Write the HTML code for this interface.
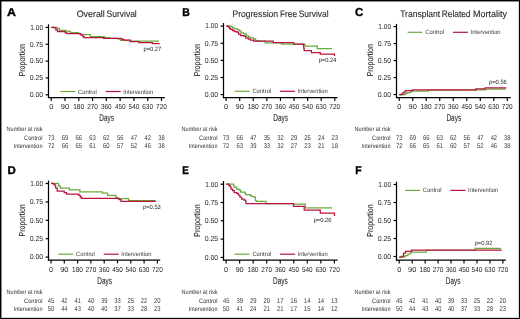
<!DOCTYPE html>
<html><head><meta charset="utf-8"><style>
html,body{margin:0;padding:0;background:#fff;}
svg{display:block;font-family:"Liberation Sans", sans-serif;will-change:transform;text-rendering:geometricPrecision;}
</style></head><body>
<svg width="520" height="319" viewBox="0 0 520 319">
<rect x="0" y="0" width="520" height="319" fill="#fff"/>
<text x="6.99" y="16.40" font-size="11.4" font-weight="bold" fill="#000" stroke="#000" stroke-width="0.4" textLength="8.93" lengthAdjust="spacingAndGlyphs">A</text>
<text x="76.68" y="16.80" font-size="9.4" fill="#262626" stroke="#262626" stroke-width="0.1" textLength="28.11" lengthAdjust="spacingAndGlyphs">Overall</text>
<text x="106.51" y="16.80" font-size="9.4" fill="#262626" stroke="#262626" stroke-width="0.1" textLength="30.26" lengthAdjust="spacingAndGlyphs">Survival</text>
<line x1="48.50" y1="24.30" x2="48.50" y2="98.10" stroke="#000" stroke-width="1.25"/>
<line x1="47.90" y1="97.50" x2="164.80" y2="97.50" stroke="#000" stroke-width="1.25"/>
<line x1="45.60" y1="27.40" x2="48.50" y2="27.40" stroke="#000" stroke-width="1.2"/>
<text x="30.30" y="29.70" font-size="7.2" fill="#262626" textLength="12.76" lengthAdjust="spacingAndGlyphs">1.00</text>
<line x1="45.60" y1="44.25" x2="48.50" y2="44.25" stroke="#000" stroke-width="1.2"/>
<text x="29.63" y="46.55" font-size="7.2" fill="#262626" textLength="13.46" lengthAdjust="spacingAndGlyphs">0.75</text>
<line x1="45.60" y1="61.10" x2="48.50" y2="61.10" stroke="#000" stroke-width="1.2"/>
<text x="29.63" y="63.40" font-size="7.2" fill="#262626" textLength="13.44" lengthAdjust="spacingAndGlyphs">0.50</text>
<line x1="45.60" y1="77.95" x2="48.50" y2="77.95" stroke="#000" stroke-width="1.2"/>
<text x="29.63" y="80.25" font-size="7.2" fill="#262626" textLength="13.46" lengthAdjust="spacingAndGlyphs">0.25</text>
<line x1="45.60" y1="94.80" x2="48.50" y2="94.80" stroke="#000" stroke-width="1.2"/>
<text x="29.63" y="97.10" font-size="7.2" fill="#262626" textLength="13.44" lengthAdjust="spacingAndGlyphs">0.00</text>
<line x1="51.20" y1="97.50" x2="51.20" y2="100.90" stroke="#000" stroke-width="1.15"/>
<text x="49.16" y="108.80" font-size="7.2" fill="#262626" textLength="4.07" lengthAdjust="spacingAndGlyphs">0</text>
<line x1="64.99" y1="97.50" x2="64.99" y2="100.90" stroke="#000" stroke-width="1.15"/>
<text x="60.84" y="108.80" font-size="7.2" fill="#262626" textLength="8.24" lengthAdjust="spacingAndGlyphs">90</text>
<line x1="78.78" y1="97.50" x2="78.78" y2="100.90" stroke="#000" stroke-width="1.15"/>
<text x="73.17" y="108.80" font-size="7.2" fill="#262626" textLength="10.96" lengthAdjust="spacingAndGlyphs">180</text>
<line x1="92.56" y1="97.50" x2="92.56" y2="100.90" stroke="#000" stroke-width="1.15"/>
<text x="87.14" y="108.80" font-size="7.2" fill="#262626" textLength="10.78" lengthAdjust="spacingAndGlyphs">270</text>
<line x1="106.35" y1="97.50" x2="106.35" y2="100.90" stroke="#000" stroke-width="1.15"/>
<text x="101.01" y="108.80" font-size="7.2" fill="#262626" textLength="10.69" lengthAdjust="spacingAndGlyphs">360</text>
<line x1="120.14" y1="97.50" x2="120.14" y2="100.90" stroke="#000" stroke-width="1.15"/>
<text x="114.89" y="108.80" font-size="7.2" fill="#262626" textLength="10.59" lengthAdjust="spacingAndGlyphs">450</text>
<line x1="133.93" y1="97.50" x2="133.93" y2="100.90" stroke="#000" stroke-width="1.15"/>
<text x="128.57" y="108.80" font-size="7.2" fill="#262626" textLength="10.71" lengthAdjust="spacingAndGlyphs">540</text>
<line x1="147.71" y1="97.50" x2="147.71" y2="100.90" stroke="#000" stroke-width="1.15"/>
<text x="142.28" y="108.80" font-size="7.2" fill="#262626" textLength="10.78" lengthAdjust="spacingAndGlyphs">630</text>
<line x1="161.50" y1="97.50" x2="161.50" y2="100.90" stroke="#000" stroke-width="1.15"/>
<text x="156.07" y="108.80" font-size="7.2" fill="#262626" textLength="10.78" lengthAdjust="spacingAndGlyphs">720</text>
<text x="99.27" y="120.50" font-size="9.8" fill="#262626" stroke="#262626" stroke-width="0.08" textLength="14.66" lengthAdjust="spacingAndGlyphs">Days</text>
<text x="0" y="0" font-size="8.7" fill="#262626" stroke="#262626" stroke-width="0.12" textLength="32.23" lengthAdjust="spacingAndGlyphs" transform="translate(24.80,76.37) rotate(-90)">Proportion</text>
<line x1="60.30" y1="91.50" x2="75.20" y2="91.50" stroke="#6aaa3c" stroke-width="1.2"/>
<line x1="105.60" y1="91.50" x2="120.70" y2="91.50" stroke="#b8143f" stroke-width="1.2"/>
<text x="78.00" y="93.50" font-size="6.2" fill="#3a3a3a" textLength="18.79" lengthAdjust="spacingAndGlyphs">Control</text>
<text x="123.27" y="93.50" font-size="6.2" fill="#3a3a3a" textLength="30.00" lengthAdjust="spacingAndGlyphs">Intervention</text>
<path d="M51.20,27.30 L56.30,27.30 L56.30,27.80 L57.80,27.80 L57.80,28.60 L59.40,28.60 L59.40,30.40 L66.00,30.40 L66.00,31.00 L69.00,31.00 L69.00,31.50 L70.50,31.50 L70.50,32.60 L78.60,32.60 L78.60,33.60 L80.50,33.60 L80.50,34.50 L90.40,34.50 L90.40,36.50 L104.60,36.50 L104.60,37.50 L109.60,37.50 L109.60,38.30 L118.00,38.30 L118.00,39.20 L120.40,39.20 L120.40,40.30 L131.00,40.30 L131.00,41.20 L158.90,41.20 L158.90,41.20" fill="none" stroke="#6aaa3c" stroke-width="1.25"/>
<path d="M51.20,27.30 L54.00,27.30 L54.00,27.80 L55.90,27.80 L55.90,30.20 L57.50,30.20 L57.50,31.70 L65.20,31.70 L65.20,32.80 L67.10,32.80 L67.10,33.60 L80.50,33.60 L80.50,34.80 L82.80,34.80 L82.80,36.70 L84.00,36.70 L84.00,37.50 L103.50,37.50 L103.50,38.30 L121.20,38.30 L121.20,38.80 L122.70,38.80 L122.70,39.60 L124.30,39.60 L124.30,40.20 L130.10,40.20 L130.10,41.70 L138.90,41.70 L138.90,42.50 L152.40,42.50 L152.40,43.60 L159.70,43.60 L159.70,43.60" fill="none" stroke="#b8143f" stroke-width="1.25"/>
<text x="143.43" y="50.50" font-size="6.2" fill="#262626" textLength="17.86" lengthAdjust="spacingAndGlyphs">p=0.27</text>
<text x="6.55" y="131.00" font-size="6.3" fill="#303030" textLength="36.05" lengthAdjust="spacingAndGlyphs">Number at risk</text>
<text x="24.01" y="139.60" font-size="6.3" fill="#303030" textLength="18.47" lengthAdjust="spacingAndGlyphs">Control</text>
<text x="13.69" y="148.40" font-size="6.3" fill="#303030" textLength="28.77" lengthAdjust="spacingAndGlyphs">Intervention</text>
<text x="47.90" y="139.70" font-size="7.0" fill="#3a3a3a" textLength="6.56" lengthAdjust="spacingAndGlyphs">73</text>
<text x="47.90" y="148.20" font-size="7.0" fill="#3a3a3a" textLength="6.60" lengthAdjust="spacingAndGlyphs">72</text>
<text x="61.69" y="139.70" font-size="7.0" fill="#3a3a3a" textLength="6.58" lengthAdjust="spacingAndGlyphs">69</text>
<text x="61.69" y="148.20" font-size="7.0" fill="#3a3a3a" textLength="6.56" lengthAdjust="spacingAndGlyphs">66</text>
<text x="75.48" y="139.70" font-size="7.0" fill="#3a3a3a" textLength="6.56" lengthAdjust="spacingAndGlyphs">66</text>
<text x="75.48" y="148.20" font-size="7.0" fill="#3a3a3a" textLength="6.55" lengthAdjust="spacingAndGlyphs">65</text>
<text x="89.26" y="139.70" font-size="7.0" fill="#3a3a3a" textLength="6.56" lengthAdjust="spacingAndGlyphs">63</text>
<text x="89.26" y="148.20" font-size="7.0" fill="#3a3a3a" textLength="6.59" lengthAdjust="spacingAndGlyphs">61</text>
<text x="103.05" y="139.70" font-size="7.0" fill="#3a3a3a" textLength="6.60" lengthAdjust="spacingAndGlyphs">62</text>
<text x="103.05" y="148.20" font-size="7.0" fill="#3a3a3a" textLength="6.53" lengthAdjust="spacingAndGlyphs">60</text>
<text x="116.90" y="139.70" font-size="7.0" fill="#3a3a3a" textLength="6.49" lengthAdjust="spacingAndGlyphs">56</text>
<text x="116.90" y="148.20" font-size="7.0" fill="#3a3a3a" textLength="6.53" lengthAdjust="spacingAndGlyphs">57</text>
<text x="130.79" y="139.70" font-size="7.0" fill="#3a3a3a" textLength="6.42" lengthAdjust="spacingAndGlyphs">47</text>
<text x="130.69" y="148.20" font-size="7.0" fill="#3a3a3a" textLength="6.53" lengthAdjust="spacingAndGlyphs">52</text>
<text x="144.58" y="139.70" font-size="7.0" fill="#3a3a3a" textLength="6.42" lengthAdjust="spacingAndGlyphs">42</text>
<text x="144.58" y="148.20" font-size="7.0" fill="#3a3a3a" textLength="6.38" lengthAdjust="spacingAndGlyphs">46</text>
<text x="158.28" y="139.70" font-size="7.0" fill="#3a3a3a" textLength="6.47" lengthAdjust="spacingAndGlyphs">38</text>
<text x="158.28" y="148.20" font-size="7.0" fill="#3a3a3a" textLength="6.47" lengthAdjust="spacingAndGlyphs">38</text>
<text x="182.30" y="16.30" font-size="11.4" font-weight="bold" fill="#000" stroke="#000" stroke-width="0.4" textLength="7.58" lengthAdjust="spacingAndGlyphs">B</text>
<text x="232.50" y="16.60" font-size="9.4" fill="#262626" stroke="#262626" stroke-width="0.1" textLength="45.55" lengthAdjust="spacingAndGlyphs">Progression</text>
<text x="279.91" y="16.60" font-size="9.4" fill="#262626" stroke="#262626" stroke-width="0.1" textLength="17.26" lengthAdjust="spacingAndGlyphs">Free</text>
<text x="298.72" y="16.60" font-size="9.4" fill="#262626" stroke="#262626" stroke-width="0.1" textLength="29.84" lengthAdjust="spacingAndGlyphs">Survival</text>
<line x1="223.50" y1="23.00" x2="223.50" y2="98.10" stroke="#000" stroke-width="1.25"/>
<line x1="222.90" y1="97.50" x2="337.60" y2="97.50" stroke="#000" stroke-width="1.25"/>
<line x1="220.60" y1="26.10" x2="223.50" y2="26.10" stroke="#000" stroke-width="1.2"/>
<text x="205.30" y="28.40" font-size="7.2" fill="#262626" textLength="12.76" lengthAdjust="spacingAndGlyphs">1.00</text>
<line x1="220.60" y1="43.23" x2="223.50" y2="43.23" stroke="#000" stroke-width="1.2"/>
<text x="204.63" y="45.52" font-size="7.2" fill="#262626" textLength="13.46" lengthAdjust="spacingAndGlyphs">0.75</text>
<line x1="220.60" y1="60.35" x2="223.50" y2="60.35" stroke="#000" stroke-width="1.2"/>
<text x="204.63" y="62.65" font-size="7.2" fill="#262626" textLength="13.44" lengthAdjust="spacingAndGlyphs">0.50</text>
<line x1="220.60" y1="77.47" x2="223.50" y2="77.47" stroke="#000" stroke-width="1.2"/>
<text x="204.63" y="79.77" font-size="7.2" fill="#262626" textLength="13.46" lengthAdjust="spacingAndGlyphs">0.25</text>
<line x1="220.60" y1="94.60" x2="223.50" y2="94.60" stroke="#000" stroke-width="1.2"/>
<text x="204.63" y="96.90" font-size="7.2" fill="#262626" textLength="13.44" lengthAdjust="spacingAndGlyphs">0.00</text>
<line x1="226.10" y1="97.50" x2="226.10" y2="100.90" stroke="#000" stroke-width="1.15"/>
<text x="224.06" y="108.80" font-size="7.2" fill="#262626" textLength="4.07" lengthAdjust="spacingAndGlyphs">0</text>
<line x1="239.69" y1="97.50" x2="239.69" y2="100.90" stroke="#000" stroke-width="1.15"/>
<text x="235.54" y="108.80" font-size="7.2" fill="#262626" textLength="8.24" lengthAdjust="spacingAndGlyphs">90</text>
<line x1="253.28" y1="97.50" x2="253.28" y2="100.90" stroke="#000" stroke-width="1.15"/>
<text x="247.67" y="108.80" font-size="7.2" fill="#262626" textLength="10.96" lengthAdjust="spacingAndGlyphs">180</text>
<line x1="266.86" y1="97.50" x2="266.86" y2="100.90" stroke="#000" stroke-width="1.15"/>
<text x="261.44" y="108.80" font-size="7.2" fill="#262626" textLength="10.78" lengthAdjust="spacingAndGlyphs">270</text>
<line x1="280.45" y1="97.50" x2="280.45" y2="100.90" stroke="#000" stroke-width="1.15"/>
<text x="275.11" y="108.80" font-size="7.2" fill="#262626" textLength="10.69" lengthAdjust="spacingAndGlyphs">360</text>
<line x1="294.04" y1="97.50" x2="294.04" y2="100.90" stroke="#000" stroke-width="1.15"/>
<text x="288.79" y="108.80" font-size="7.2" fill="#262626" textLength="10.59" lengthAdjust="spacingAndGlyphs">450</text>
<line x1="307.62" y1="97.50" x2="307.62" y2="100.90" stroke="#000" stroke-width="1.15"/>
<text x="302.27" y="108.80" font-size="7.2" fill="#262626" textLength="10.71" lengthAdjust="spacingAndGlyphs">540</text>
<line x1="321.21" y1="97.50" x2="321.21" y2="100.90" stroke="#000" stroke-width="1.15"/>
<text x="315.78" y="108.80" font-size="7.2" fill="#262626" textLength="10.78" lengthAdjust="spacingAndGlyphs">630</text>
<line x1="334.80" y1="97.50" x2="334.80" y2="100.90" stroke="#000" stroke-width="1.15"/>
<text x="329.37" y="108.80" font-size="7.2" fill="#262626" textLength="10.78" lengthAdjust="spacingAndGlyphs">720</text>
<text x="273.37" y="120.50" font-size="9.8" fill="#262626" stroke="#262626" stroke-width="0.08" textLength="14.66" lengthAdjust="spacingAndGlyphs">Days</text>
<text x="0" y="0" font-size="8.7" fill="#262626" stroke="#262626" stroke-width="0.12" textLength="32.23" lengthAdjust="spacingAndGlyphs" transform="translate(199.80,76.37) rotate(-90)">Proportion</text>
<line x1="234.70" y1="91.30" x2="249.60" y2="91.30" stroke="#6aaa3c" stroke-width="1.2"/>
<line x1="280.00" y1="91.30" x2="295.10" y2="91.30" stroke="#b8143f" stroke-width="1.2"/>
<text x="252.40" y="93.30" font-size="6.2" fill="#3a3a3a" textLength="18.79" lengthAdjust="spacingAndGlyphs">Control</text>
<text x="297.67" y="93.30" font-size="6.2" fill="#3a3a3a" textLength="30.00" lengthAdjust="spacingAndGlyphs">Intervention</text>
<path d="M226.10,26.10 L231.00,26.10 L231.00,26.80 L232.60,26.80 L232.60,27.60 L233.90,27.60 L233.90,28.90 L237.20,28.90 L237.20,29.60 L239.20,29.60 L239.20,30.90 L241.10,30.90 L241.10,32.90 L243.80,32.90 L243.80,33.90 L246.40,33.90 L246.40,35.80 L248.40,35.80 L248.40,37.20 L250.40,37.20 L250.40,37.80 L253.60,37.80 L253.60,38.80 L255.60,38.80 L255.60,40.50 L257.60,40.50 L257.60,41.10 L265.20,41.10 L265.20,42.80 L281.40,42.80 L281.40,44.10 L305.00,44.10 L305.00,46.10 L317.30,46.10 L317.30,48.50 L332.10,48.50 L332.10,48.50" fill="none" stroke="#6aaa3c" stroke-width="1.25"/>
<path d="M226.10,26.10 L228.60,26.10 L228.60,27.00 L229.60,27.00 L229.60,28.50 L230.60,28.50 L230.60,29.30 L232.60,29.30 L232.60,30.60 L234.50,30.60 L234.50,31.60 L236.80,31.60 L236.80,32.20 L238.50,32.20 L238.50,34.20 L240.50,34.20 L240.50,35.50 L243.80,35.50 L243.80,36.20 L245.70,36.20 L245.70,38.20 L248.40,38.20 L248.40,39.10 L250.40,39.10 L250.40,40.10 L253.60,40.10 L253.60,41.10 L273.30,41.10 L273.30,42.50 L293.70,42.50 L293.70,44.20 L302.90,44.20 L302.90,44.50 L303.70,44.50 L303.70,48.00 L304.20,48.00 L304.20,50.60 L311.40,50.60 L311.40,52.50 L320.30,52.50 L320.30,54.20 L333.80,54.20 L333.80,54.20 L334.50,54.20 L334.50,56.10" fill="none" stroke="#b8143f" stroke-width="1.25"/>
<text x="318.63" y="61.60" font-size="6.2" fill="#262626" textLength="17.74" lengthAdjust="spacingAndGlyphs">p=0.24</text>
<text x="181.55" y="131.00" font-size="6.3" fill="#303030" textLength="36.05" lengthAdjust="spacingAndGlyphs">Number at risk</text>
<text x="199.01" y="139.60" font-size="6.3" fill="#303030" textLength="18.47" lengthAdjust="spacingAndGlyphs">Control</text>
<text x="188.69" y="148.40" font-size="6.3" fill="#303030" textLength="28.77" lengthAdjust="spacingAndGlyphs">Intervention</text>
<text x="222.80" y="139.70" font-size="7.0" fill="#3a3a3a" textLength="6.56" lengthAdjust="spacingAndGlyphs">73</text>
<text x="222.80" y="148.20" font-size="7.0" fill="#3a3a3a" textLength="6.60" lengthAdjust="spacingAndGlyphs">72</text>
<text x="236.39" y="139.70" font-size="7.0" fill="#3a3a3a" textLength="6.56" lengthAdjust="spacingAndGlyphs">66</text>
<text x="236.39" y="148.20" font-size="7.0" fill="#3a3a3a" textLength="6.56" lengthAdjust="spacingAndGlyphs">63</text>
<text x="250.14" y="139.70" font-size="7.0" fill="#3a3a3a" textLength="6.42" lengthAdjust="spacingAndGlyphs">47</text>
<text x="250.05" y="148.20" font-size="7.0" fill="#3a3a3a" textLength="6.50" lengthAdjust="spacingAndGlyphs">39</text>
<text x="263.64" y="139.70" font-size="7.0" fill="#3a3a3a" textLength="6.47" lengthAdjust="spacingAndGlyphs">35</text>
<text x="263.64" y="148.20" font-size="7.0" fill="#3a3a3a" textLength="6.48" lengthAdjust="spacingAndGlyphs">33</text>
<text x="277.23" y="139.70" font-size="7.0" fill="#3a3a3a" textLength="6.52" lengthAdjust="spacingAndGlyphs">32</text>
<text x="277.23" y="148.20" font-size="7.0" fill="#3a3a3a" textLength="6.52" lengthAdjust="spacingAndGlyphs">32</text>
<text x="290.74" y="139.70" font-size="7.0" fill="#3a3a3a" textLength="6.58" lengthAdjust="spacingAndGlyphs">29</text>
<text x="290.74" y="148.20" font-size="7.0" fill="#3a3a3a" textLength="6.60" lengthAdjust="spacingAndGlyphs">27</text>
<text x="304.33" y="139.70" font-size="7.0" fill="#3a3a3a" textLength="6.54" lengthAdjust="spacingAndGlyphs">25</text>
<text x="304.33" y="148.20" font-size="7.0" fill="#3a3a3a" textLength="6.56" lengthAdjust="spacingAndGlyphs">23</text>
<text x="317.92" y="139.70" font-size="7.0" fill="#3a3a3a" textLength="6.46" lengthAdjust="spacingAndGlyphs">24</text>
<text x="317.91" y="148.20" font-size="7.0" fill="#3a3a3a" textLength="6.59" lengthAdjust="spacingAndGlyphs">21</text>
<text x="331.50" y="139.70" font-size="7.0" fill="#3a3a3a" textLength="6.56" lengthAdjust="spacingAndGlyphs">23</text>
<text x="331.34" y="148.20" font-size="7.0" fill="#3a3a3a" textLength="6.72" lengthAdjust="spacingAndGlyphs">18</text>
<text x="354.93" y="16.30" font-size="11.4" font-weight="bold" fill="#000" stroke="#000" stroke-width="0.4" textLength="8.28" lengthAdjust="spacingAndGlyphs">C</text>
<text x="400.21" y="16.50" font-size="9.4" fill="#262626" stroke="#262626" stroke-width="0.1" textLength="39.95" lengthAdjust="spacingAndGlyphs">Transplant</text>
<text x="441.82" y="16.50" font-size="9.4" fill="#262626" stroke="#262626" stroke-width="0.1" textLength="28.62" lengthAdjust="spacingAndGlyphs">Related</text>
<text x="473.01" y="16.50" font-size="9.4" fill="#262626" stroke="#262626" stroke-width="0.1" textLength="34.01" lengthAdjust="spacingAndGlyphs">Mortality</text>
<line x1="396.50" y1="23.90" x2="396.50" y2="98.10" stroke="#000" stroke-width="1.25"/>
<line x1="395.90" y1="97.50" x2="510.80" y2="97.50" stroke="#000" stroke-width="1.25"/>
<line x1="393.60" y1="26.60" x2="396.50" y2="26.60" stroke="#000" stroke-width="1.2"/>
<text x="378.30" y="28.90" font-size="7.2" fill="#262626" textLength="12.76" lengthAdjust="spacingAndGlyphs">1.00</text>
<line x1="393.60" y1="43.58" x2="396.50" y2="43.58" stroke="#000" stroke-width="1.2"/>
<text x="377.63" y="45.88" font-size="7.2" fill="#262626" textLength="13.46" lengthAdjust="spacingAndGlyphs">0.75</text>
<line x1="393.60" y1="60.55" x2="396.50" y2="60.55" stroke="#000" stroke-width="1.2"/>
<text x="377.63" y="62.85" font-size="7.2" fill="#262626" textLength="13.44" lengthAdjust="spacingAndGlyphs">0.50</text>
<line x1="393.60" y1="77.53" x2="396.50" y2="77.53" stroke="#000" stroke-width="1.2"/>
<text x="377.63" y="79.83" font-size="7.2" fill="#262626" textLength="13.46" lengthAdjust="spacingAndGlyphs">0.25</text>
<line x1="393.60" y1="94.50" x2="396.50" y2="94.50" stroke="#000" stroke-width="1.2"/>
<text x="377.63" y="96.80" font-size="7.2" fill="#262626" textLength="13.44" lengthAdjust="spacingAndGlyphs">0.00</text>
<line x1="399.20" y1="97.50" x2="399.20" y2="100.90" stroke="#000" stroke-width="1.15"/>
<text x="397.16" y="108.80" font-size="7.2" fill="#262626" textLength="4.07" lengthAdjust="spacingAndGlyphs">0</text>
<line x1="412.71" y1="97.50" x2="412.71" y2="100.90" stroke="#000" stroke-width="1.15"/>
<text x="408.57" y="108.80" font-size="7.2" fill="#262626" textLength="8.24" lengthAdjust="spacingAndGlyphs">90</text>
<line x1="426.23" y1="97.50" x2="426.23" y2="100.90" stroke="#000" stroke-width="1.15"/>
<text x="420.62" y="108.80" font-size="7.2" fill="#262626" textLength="10.96" lengthAdjust="spacingAndGlyphs">180</text>
<line x1="439.74" y1="97.50" x2="439.74" y2="100.90" stroke="#000" stroke-width="1.15"/>
<text x="434.31" y="108.80" font-size="7.2" fill="#262626" textLength="10.78" lengthAdjust="spacingAndGlyphs">270</text>
<line x1="453.25" y1="97.50" x2="453.25" y2="100.90" stroke="#000" stroke-width="1.15"/>
<text x="447.91" y="108.80" font-size="7.2" fill="#262626" textLength="10.69" lengthAdjust="spacingAndGlyphs">360</text>
<line x1="466.76" y1="97.50" x2="466.76" y2="100.90" stroke="#000" stroke-width="1.15"/>
<text x="461.52" y="108.80" font-size="7.2" fill="#262626" textLength="10.59" lengthAdjust="spacingAndGlyphs">450</text>
<line x1="480.27" y1="97.50" x2="480.27" y2="100.90" stroke="#000" stroke-width="1.15"/>
<text x="474.92" y="108.80" font-size="7.2" fill="#262626" textLength="10.71" lengthAdjust="spacingAndGlyphs">540</text>
<line x1="493.79" y1="97.50" x2="493.79" y2="100.90" stroke="#000" stroke-width="1.15"/>
<text x="488.36" y="108.80" font-size="7.2" fill="#262626" textLength="10.78" lengthAdjust="spacingAndGlyphs">630</text>
<line x1="507.30" y1="97.50" x2="507.30" y2="100.90" stroke="#000" stroke-width="1.15"/>
<text x="501.87" y="108.80" font-size="7.2" fill="#262626" textLength="10.78" lengthAdjust="spacingAndGlyphs">720</text>
<text x="446.47" y="120.50" font-size="9.8" fill="#262626" stroke="#262626" stroke-width="0.08" textLength="14.66" lengthAdjust="spacingAndGlyphs">Days</text>
<text x="0" y="0" font-size="8.7" fill="#262626" stroke="#262626" stroke-width="0.12" textLength="32.23" lengthAdjust="spacingAndGlyphs" transform="translate(372.80,76.37) rotate(-90)">Proportion</text>
<line x1="407.60" y1="32.30" x2="422.50" y2="32.30" stroke="#6aaa3c" stroke-width="1.2"/>
<line x1="452.90" y1="32.30" x2="468.00" y2="32.30" stroke="#b8143f" stroke-width="1.2"/>
<text x="425.30" y="34.30" font-size="6.2" fill="#3a3a3a" textLength="18.79" lengthAdjust="spacingAndGlyphs">Control</text>
<text x="470.57" y="34.30" font-size="6.2" fill="#3a3a3a" textLength="30.00" lengthAdjust="spacingAndGlyphs">Intervention</text>
<path d="M399.20,94.80 L403.00,94.80 L403.00,94.50 L405.20,94.50 L405.20,93.60 L406.50,93.60 L406.50,93.00 L407.50,93.00 L407.50,92.50 L410.60,92.50 L410.60,91.50 L412.50,91.50 L412.50,91.20 L428.30,91.20 L428.30,90.20 L476.50,90.20 L476.50,89.80 L485.50,89.80 L485.50,89.00 L505.90,89.00 L505.90,89.00" fill="none" stroke="#6aaa3c" stroke-width="1.25"/>
<path d="M399.20,94.60 L401.40,94.60 L401.40,94.00 L402.50,94.00 L402.50,93.20 L403.70,93.20 L403.70,92.10 L405.00,92.10 L405.00,91.20 L406.00,91.20 L406.00,90.50 L412.30,90.50 L412.30,89.80 L475.70,89.80 L475.70,88.80 L485.10,88.80 L485.10,87.80 L506.30,87.80 L506.30,87.80" fill="none" stroke="#b8143f" stroke-width="1.25"/>
<text x="489.03" y="84.20" font-size="6.2" fill="#262626" textLength="17.83" lengthAdjust="spacingAndGlyphs">p=0.56</text>
<text x="354.55" y="131.00" font-size="6.3" fill="#303030" textLength="36.05" lengthAdjust="spacingAndGlyphs">Number at risk</text>
<text x="372.01" y="139.60" font-size="6.3" fill="#303030" textLength="18.47" lengthAdjust="spacingAndGlyphs">Control</text>
<text x="361.69" y="148.40" font-size="6.3" fill="#303030" textLength="28.77" lengthAdjust="spacingAndGlyphs">Intervention</text>
<text x="395.90" y="139.70" font-size="7.0" fill="#3a3a3a" textLength="6.56" lengthAdjust="spacingAndGlyphs">73</text>
<text x="395.90" y="148.20" font-size="7.0" fill="#3a3a3a" textLength="6.60" lengthAdjust="spacingAndGlyphs">72</text>
<text x="409.41" y="139.70" font-size="7.0" fill="#3a3a3a" textLength="6.58" lengthAdjust="spacingAndGlyphs">69</text>
<text x="409.41" y="148.20" font-size="7.0" fill="#3a3a3a" textLength="6.56" lengthAdjust="spacingAndGlyphs">66</text>
<text x="422.93" y="139.70" font-size="7.0" fill="#3a3a3a" textLength="6.56" lengthAdjust="spacingAndGlyphs">66</text>
<text x="422.93" y="148.20" font-size="7.0" fill="#3a3a3a" textLength="6.55" lengthAdjust="spacingAndGlyphs">65</text>
<text x="436.44" y="139.70" font-size="7.0" fill="#3a3a3a" textLength="6.56" lengthAdjust="spacingAndGlyphs">63</text>
<text x="436.44" y="148.20" font-size="7.0" fill="#3a3a3a" textLength="6.59" lengthAdjust="spacingAndGlyphs">61</text>
<text x="449.95" y="139.70" font-size="7.0" fill="#3a3a3a" textLength="6.60" lengthAdjust="spacingAndGlyphs">62</text>
<text x="449.95" y="148.20" font-size="7.0" fill="#3a3a3a" textLength="6.53" lengthAdjust="spacingAndGlyphs">60</text>
<text x="463.53" y="139.70" font-size="7.0" fill="#3a3a3a" textLength="6.49" lengthAdjust="spacingAndGlyphs">56</text>
<text x="463.53" y="148.20" font-size="7.0" fill="#3a3a3a" textLength="6.53" lengthAdjust="spacingAndGlyphs">57</text>
<text x="477.14" y="139.70" font-size="7.0" fill="#3a3a3a" textLength="6.42" lengthAdjust="spacingAndGlyphs">47</text>
<text x="477.04" y="148.20" font-size="7.0" fill="#3a3a3a" textLength="6.53" lengthAdjust="spacingAndGlyphs">52</text>
<text x="490.65" y="139.70" font-size="7.0" fill="#3a3a3a" textLength="6.42" lengthAdjust="spacingAndGlyphs">42</text>
<text x="490.66" y="148.20" font-size="7.0" fill="#3a3a3a" textLength="6.38" lengthAdjust="spacingAndGlyphs">46</text>
<text x="504.08" y="139.70" font-size="7.0" fill="#3a3a3a" textLength="6.47" lengthAdjust="spacingAndGlyphs">38</text>
<text x="504.08" y="148.20" font-size="7.0" fill="#3a3a3a" textLength="6.47" lengthAdjust="spacingAndGlyphs">38</text>
<text x="7.64" y="173.50" font-size="11.4" font-weight="bold" fill="#000" stroke="#000" stroke-width="0.4" textLength="8.24" lengthAdjust="spacingAndGlyphs">D</text>
<line x1="48.50" y1="180.60" x2="48.50" y2="260.60" stroke="#000" stroke-width="1.25"/>
<line x1="47.90" y1="260.00" x2="160.20" y2="260.00" stroke="#000" stroke-width="1.25"/>
<line x1="45.60" y1="183.50" x2="48.50" y2="183.50" stroke="#000" stroke-width="1.2"/>
<text x="30.30" y="185.80" font-size="7.2" fill="#262626" textLength="12.76" lengthAdjust="spacingAndGlyphs">1.00</text>
<line x1="45.60" y1="201.90" x2="48.50" y2="201.90" stroke="#000" stroke-width="1.2"/>
<text x="29.63" y="204.20" font-size="7.2" fill="#262626" textLength="13.46" lengthAdjust="spacingAndGlyphs">0.75</text>
<line x1="45.60" y1="220.30" x2="48.50" y2="220.30" stroke="#000" stroke-width="1.2"/>
<text x="29.63" y="222.60" font-size="7.2" fill="#262626" textLength="13.44" lengthAdjust="spacingAndGlyphs">0.50</text>
<line x1="45.60" y1="238.70" x2="48.50" y2="238.70" stroke="#000" stroke-width="1.2"/>
<text x="29.63" y="241.00" font-size="7.2" fill="#262626" textLength="13.46" lengthAdjust="spacingAndGlyphs">0.25</text>
<line x1="45.60" y1="257.10" x2="48.50" y2="257.10" stroke="#000" stroke-width="1.2"/>
<text x="29.63" y="259.40" font-size="7.2" fill="#262626" textLength="13.44" lengthAdjust="spacingAndGlyphs">0.00</text>
<line x1="51.00" y1="260.00" x2="51.00" y2="263.40" stroke="#000" stroke-width="1.15"/>
<text x="48.96" y="271.80" font-size="7.2" fill="#262626" textLength="4.07" lengthAdjust="spacingAndGlyphs">0</text>
<line x1="64.30" y1="260.00" x2="64.30" y2="263.40" stroke="#000" stroke-width="1.15"/>
<text x="60.15" y="271.80" font-size="7.2" fill="#262626" textLength="8.24" lengthAdjust="spacingAndGlyphs">90</text>
<line x1="77.60" y1="260.00" x2="77.60" y2="263.40" stroke="#000" stroke-width="1.15"/>
<text x="72.00" y="271.80" font-size="7.2" fill="#262626" textLength="10.96" lengthAdjust="spacingAndGlyphs">180</text>
<line x1="90.90" y1="260.00" x2="90.90" y2="263.40" stroke="#000" stroke-width="1.15"/>
<text x="85.48" y="271.80" font-size="7.2" fill="#262626" textLength="10.78" lengthAdjust="spacingAndGlyphs">270</text>
<line x1="104.20" y1="260.00" x2="104.20" y2="263.40" stroke="#000" stroke-width="1.15"/>
<text x="98.86" y="271.80" font-size="7.2" fill="#262626" textLength="10.69" lengthAdjust="spacingAndGlyphs">360</text>
<line x1="117.50" y1="260.00" x2="117.50" y2="263.40" stroke="#000" stroke-width="1.15"/>
<text x="112.25" y="271.80" font-size="7.2" fill="#262626" textLength="10.59" lengthAdjust="spacingAndGlyphs">450</text>
<line x1="130.80" y1="260.00" x2="130.80" y2="263.40" stroke="#000" stroke-width="1.15"/>
<text x="125.44" y="271.80" font-size="7.2" fill="#262626" textLength="10.71" lengthAdjust="spacingAndGlyphs">540</text>
<line x1="144.10" y1="260.00" x2="144.10" y2="263.40" stroke="#000" stroke-width="1.15"/>
<text x="138.67" y="271.80" font-size="7.2" fill="#262626" textLength="10.78" lengthAdjust="spacingAndGlyphs">630</text>
<line x1="157.40" y1="260.00" x2="157.40" y2="263.40" stroke="#000" stroke-width="1.15"/>
<text x="151.97" y="271.80" font-size="7.2" fill="#262626" textLength="10.78" lengthAdjust="spacingAndGlyphs">720</text>
<text x="97.27" y="283.50" font-size="9.8" fill="#262626" stroke="#262626" stroke-width="0.08" textLength="14.66" lengthAdjust="spacingAndGlyphs">Days</text>
<text x="0" y="0" font-size="8.7" fill="#262626" stroke="#262626" stroke-width="0.12" textLength="32.23" lengthAdjust="spacingAndGlyphs" transform="translate(24.80,236.47) rotate(-90)">Proportion</text>
<line x1="58.40" y1="254.20" x2="73.30" y2="254.20" stroke="#6aaa3c" stroke-width="1.2"/>
<line x1="103.70" y1="254.20" x2="118.80" y2="254.20" stroke="#b8143f" stroke-width="1.2"/>
<text x="76.10" y="256.20" font-size="6.2" fill="#3a3a3a" textLength="18.79" lengthAdjust="spacingAndGlyphs">Control</text>
<text x="121.37" y="256.20" font-size="6.2" fill="#3a3a3a" textLength="30.00" lengthAdjust="spacingAndGlyphs">Intervention</text>
<path d="M51.10,183.40 L58.40,183.40 L58.40,185.30 L59.50,185.30 L59.50,186.80 L60.70,186.80 L60.70,188.00 L69.50,188.00 L69.50,189.90 L79.90,189.90 L79.90,191.90 L102.30,191.90 L102.30,193.20 L107.60,193.20 L107.60,195.30 L115.80,195.30 L115.80,197.30 L117.50,197.30 L117.50,198.50 L128.75,198.50 L128.75,200.60 L155.80,200.60 L155.80,200.60" fill="none" stroke="#6aaa3c" stroke-width="1.25"/>
<path d="M51.10,183.40 L53.00,183.40 L53.00,183.90 L54.20,183.90 L54.20,184.90 L55.30,184.90 L55.30,185.70 L55.70,185.70 L55.70,188.00 L57.20,188.00 L57.20,191.10 L64.20,191.10 L64.20,192.60 L66.50,192.60 L66.50,194.00 L78.80,194.00 L78.80,195.30 L80.30,195.30 L80.30,197.20 L81.50,197.20 L81.50,198.30 L117.70,198.30 L117.70,198.30 L119.10,198.30 L119.10,199.50 L121.00,199.50 L121.00,201.30 L155.80,201.30 L155.80,201.30" fill="none" stroke="#b8143f" stroke-width="1.25"/>
<text x="143.03" y="209.30" font-size="6.2" fill="#262626" textLength="17.83" lengthAdjust="spacingAndGlyphs">p=0.53</text>
<text x="6.55" y="294.00" font-size="6.3" fill="#303030" textLength="36.05" lengthAdjust="spacingAndGlyphs">Number at risk</text>
<text x="24.01" y="302.60" font-size="6.3" fill="#303030" textLength="18.47" lengthAdjust="spacingAndGlyphs">Control</text>
<text x="13.69" y="311.40" font-size="6.3" fill="#303030" textLength="28.77" lengthAdjust="spacingAndGlyphs">Intervention</text>
<text x="47.87" y="302.70" font-size="7.0" fill="#3a3a3a" textLength="6.37" lengthAdjust="spacingAndGlyphs">45</text>
<text x="47.77" y="311.20" font-size="7.0" fill="#3a3a3a" textLength="6.46" lengthAdjust="spacingAndGlyphs">50</text>
<text x="61.17" y="302.70" font-size="7.0" fill="#3a3a3a" textLength="6.42" lengthAdjust="spacingAndGlyphs">42</text>
<text x="61.17" y="311.20" font-size="7.0" fill="#3a3a3a" textLength="6.30" lengthAdjust="spacingAndGlyphs">44</text>
<text x="74.47" y="302.70" font-size="7.0" fill="#3a3a3a" textLength="6.41" lengthAdjust="spacingAndGlyphs">41</text>
<text x="74.47" y="311.20" font-size="7.0" fill="#3a3a3a" textLength="6.38" lengthAdjust="spacingAndGlyphs">43</text>
<text x="87.77" y="302.70" font-size="7.0" fill="#3a3a3a" textLength="6.35" lengthAdjust="spacingAndGlyphs">40</text>
<text x="87.77" y="311.20" font-size="7.0" fill="#3a3a3a" textLength="6.35" lengthAdjust="spacingAndGlyphs">40</text>
<text x="100.98" y="302.70" font-size="7.0" fill="#3a3a3a" textLength="6.50" lengthAdjust="spacingAndGlyphs">39</text>
<text x="101.07" y="311.20" font-size="7.0" fill="#3a3a3a" textLength="6.35" lengthAdjust="spacingAndGlyphs">40</text>
<text x="114.28" y="302.70" font-size="7.0" fill="#3a3a3a" textLength="6.48" lengthAdjust="spacingAndGlyphs">33</text>
<text x="114.28" y="311.20" font-size="7.0" fill="#3a3a3a" textLength="6.52" lengthAdjust="spacingAndGlyphs">37</text>
<text x="127.50" y="302.70" font-size="7.0" fill="#3a3a3a" textLength="6.54" lengthAdjust="spacingAndGlyphs">25</text>
<text x="127.58" y="311.20" font-size="7.0" fill="#3a3a3a" textLength="6.48" lengthAdjust="spacingAndGlyphs">33</text>
<text x="140.80" y="302.70" font-size="7.0" fill="#3a3a3a" textLength="6.60" lengthAdjust="spacingAndGlyphs">22</text>
<text x="140.80" y="311.20" font-size="7.0" fill="#3a3a3a" textLength="6.55" lengthAdjust="spacingAndGlyphs">28</text>
<text x="154.11" y="302.70" font-size="7.0" fill="#3a3a3a" textLength="6.52" lengthAdjust="spacingAndGlyphs">20</text>
<text x="154.10" y="311.20" font-size="7.0" fill="#3a3a3a" textLength="6.56" lengthAdjust="spacingAndGlyphs">23</text>
<text x="182.34" y="173.50" font-size="11.4" font-weight="bold" fill="#000" stroke="#000" stroke-width="0.4" textLength="6.54" lengthAdjust="spacingAndGlyphs">E</text>
<line x1="223.50" y1="181.00" x2="223.50" y2="260.60" stroke="#000" stroke-width="1.25"/>
<line x1="222.90" y1="260.00" x2="337.60" y2="260.00" stroke="#000" stroke-width="1.25"/>
<line x1="220.60" y1="184.20" x2="223.50" y2="184.20" stroke="#000" stroke-width="1.2"/>
<text x="205.30" y="186.50" font-size="7.2" fill="#262626" textLength="12.76" lengthAdjust="spacingAndGlyphs">1.00</text>
<line x1="220.60" y1="202.50" x2="223.50" y2="202.50" stroke="#000" stroke-width="1.2"/>
<text x="204.63" y="204.80" font-size="7.2" fill="#262626" textLength="13.46" lengthAdjust="spacingAndGlyphs">0.75</text>
<line x1="220.60" y1="220.80" x2="223.50" y2="220.80" stroke="#000" stroke-width="1.2"/>
<text x="204.63" y="223.10" font-size="7.2" fill="#262626" textLength="13.44" lengthAdjust="spacingAndGlyphs">0.50</text>
<line x1="220.60" y1="239.10" x2="223.50" y2="239.10" stroke="#000" stroke-width="1.2"/>
<text x="204.63" y="241.40" font-size="7.2" fill="#262626" textLength="13.46" lengthAdjust="spacingAndGlyphs">0.25</text>
<line x1="220.60" y1="257.40" x2="223.50" y2="257.40" stroke="#000" stroke-width="1.2"/>
<text x="204.63" y="259.70" font-size="7.2" fill="#262626" textLength="13.44" lengthAdjust="spacingAndGlyphs">0.00</text>
<line x1="226.10" y1="260.00" x2="226.10" y2="263.40" stroke="#000" stroke-width="1.15"/>
<text x="224.06" y="271.80" font-size="7.2" fill="#262626" textLength="4.07" lengthAdjust="spacingAndGlyphs">0</text>
<line x1="239.64" y1="260.00" x2="239.64" y2="263.40" stroke="#000" stroke-width="1.15"/>
<text x="235.49" y="271.80" font-size="7.2" fill="#262626" textLength="8.24" lengthAdjust="spacingAndGlyphs">90</text>
<line x1="253.17" y1="260.00" x2="253.17" y2="263.40" stroke="#000" stroke-width="1.15"/>
<text x="247.57" y="271.80" font-size="7.2" fill="#262626" textLength="10.96" lengthAdjust="spacingAndGlyphs">180</text>
<line x1="266.71" y1="260.00" x2="266.71" y2="263.40" stroke="#000" stroke-width="1.15"/>
<text x="261.29" y="271.80" font-size="7.2" fill="#262626" textLength="10.78" lengthAdjust="spacingAndGlyphs">270</text>
<line x1="280.25" y1="260.00" x2="280.25" y2="263.40" stroke="#000" stroke-width="1.15"/>
<text x="274.91" y="271.80" font-size="7.2" fill="#262626" textLength="10.69" lengthAdjust="spacingAndGlyphs">360</text>
<line x1="293.79" y1="260.00" x2="293.79" y2="263.40" stroke="#000" stroke-width="1.15"/>
<text x="288.54" y="271.80" font-size="7.2" fill="#262626" textLength="10.59" lengthAdjust="spacingAndGlyphs">450</text>
<line x1="307.32" y1="260.00" x2="307.32" y2="263.40" stroke="#000" stroke-width="1.15"/>
<text x="301.97" y="271.80" font-size="7.2" fill="#262626" textLength="10.71" lengthAdjust="spacingAndGlyphs">540</text>
<line x1="320.86" y1="260.00" x2="320.86" y2="263.40" stroke="#000" stroke-width="1.15"/>
<text x="315.43" y="271.80" font-size="7.2" fill="#262626" textLength="10.78" lengthAdjust="spacingAndGlyphs">630</text>
<line x1="334.40" y1="260.00" x2="334.40" y2="263.40" stroke="#000" stroke-width="1.15"/>
<text x="328.97" y="271.80" font-size="7.2" fill="#262626" textLength="10.78" lengthAdjust="spacingAndGlyphs">720</text>
<text x="273.07" y="283.50" font-size="9.8" fill="#262626" stroke="#262626" stroke-width="0.08" textLength="14.66" lengthAdjust="spacingAndGlyphs">Days</text>
<text x="0" y="0" font-size="8.7" fill="#262626" stroke="#262626" stroke-width="0.12" textLength="32.23" lengthAdjust="spacingAndGlyphs" transform="translate(199.80,236.67) rotate(-90)">Proportion</text>
<line x1="234.70" y1="254.20" x2="249.60" y2="254.20" stroke="#6aaa3c" stroke-width="1.2"/>
<line x1="280.00" y1="254.20" x2="295.10" y2="254.20" stroke="#b8143f" stroke-width="1.2"/>
<text x="252.40" y="256.20" font-size="6.2" fill="#3a3a3a" textLength="18.79" lengthAdjust="spacingAndGlyphs">Control</text>
<text x="297.67" y="256.20" font-size="6.2" fill="#3a3a3a" textLength="30.00" lengthAdjust="spacingAndGlyphs">Intervention</text>
<path d="M226.10,184.20 L233.60,184.20 L233.60,185.50 L234.20,185.50 L234.20,187.00 L236.70,187.00 L236.70,189.00 L239.10,189.00 L239.10,190.20 L240.70,190.20 L240.70,192.20 L244.80,192.20 L244.80,193.00 L245.60,193.00 L245.60,194.70 L249.70,194.70 L249.70,195.10 L251.30,195.10 L251.30,196.30 L253.80,196.30 L253.80,197.10 L255.40,197.10 L255.40,200.40 L256.20,200.40 L256.20,201.30 L266.00,201.30 L266.00,203.70 L293.50,203.70 L293.50,204.20 L305.40,204.20 L305.40,207.80 L332.10,207.80 L332.10,207.80" fill="none" stroke="#6aaa3c" stroke-width="1.25"/>
<path d="M226.10,184.20 L229.00,184.20 L229.00,185.50 L230.10,185.50 L230.10,186.80 L231.00,186.80 L231.00,189.00 L232.60,189.00 L232.60,190.60 L234.20,190.60 L234.20,192.60 L236.70,192.60 L236.70,193.40 L238.30,193.40 L238.30,195.10 L239.90,195.10 L239.90,197.10 L241.60,197.10 L241.60,199.20 L244.00,199.20 L244.00,200.00 L245.60,200.00 L245.60,201.60 L246.00,201.60 L246.00,203.50 L293.50,203.50 L293.50,206.40 L304.20,206.40 L304.20,210.00 L320.30,210.00 L320.30,213.10 L334.50,213.10 L334.50,213.10 L334.50,213.10 L334.50,216.10" fill="none" stroke="#b8143f" stroke-width="1.25"/>
<text x="313.63" y="222.40" font-size="6.2" fill="#262626" textLength="17.83" lengthAdjust="spacingAndGlyphs">p=0.26</text>
<text x="181.55" y="294.00" font-size="6.3" fill="#303030" textLength="36.05" lengthAdjust="spacingAndGlyphs">Number at risk</text>
<text x="199.01" y="302.60" font-size="6.3" fill="#303030" textLength="18.47" lengthAdjust="spacingAndGlyphs">Control</text>
<text x="188.69" y="311.40" font-size="6.3" fill="#303030" textLength="28.77" lengthAdjust="spacingAndGlyphs">Intervention</text>
<text x="222.97" y="302.70" font-size="7.0" fill="#3a3a3a" textLength="6.37" lengthAdjust="spacingAndGlyphs">45</text>
<text x="222.87" y="311.20" font-size="7.0" fill="#3a3a3a" textLength="6.46" lengthAdjust="spacingAndGlyphs">50</text>
<text x="236.41" y="302.70" font-size="7.0" fill="#3a3a3a" textLength="6.50" lengthAdjust="spacingAndGlyphs">39</text>
<text x="236.51" y="311.20" font-size="7.0" fill="#3a3a3a" textLength="6.41" lengthAdjust="spacingAndGlyphs">41</text>
<text x="249.88" y="302.70" font-size="7.0" fill="#3a3a3a" textLength="6.58" lengthAdjust="spacingAndGlyphs">29</text>
<text x="249.88" y="311.20" font-size="7.0" fill="#3a3a3a" textLength="6.46" lengthAdjust="spacingAndGlyphs">24</text>
<text x="263.42" y="302.70" font-size="7.0" fill="#3a3a3a" textLength="6.52" lengthAdjust="spacingAndGlyphs">20</text>
<text x="263.41" y="311.20" font-size="7.0" fill="#3a3a3a" textLength="6.59" lengthAdjust="spacingAndGlyphs">21</text>
<text x="276.79" y="302.70" font-size="7.0" fill="#3a3a3a" textLength="6.77" lengthAdjust="spacingAndGlyphs">17</text>
<text x="276.95" y="311.20" font-size="7.0" fill="#3a3a3a" textLength="6.59" lengthAdjust="spacingAndGlyphs">21</text>
<text x="290.33" y="302.70" font-size="7.0" fill="#3a3a3a" textLength="6.73" lengthAdjust="spacingAndGlyphs">16</text>
<text x="290.32" y="311.20" font-size="7.0" fill="#3a3a3a" textLength="6.77" lengthAdjust="spacingAndGlyphs">17</text>
<text x="303.87" y="302.70" font-size="7.0" fill="#3a3a3a" textLength="6.63" lengthAdjust="spacingAndGlyphs">14</text>
<text x="303.87" y="311.20" font-size="7.0" fill="#3a3a3a" textLength="6.71" lengthAdjust="spacingAndGlyphs">15</text>
<text x="317.41" y="302.70" font-size="7.0" fill="#3a3a3a" textLength="6.63" lengthAdjust="spacingAndGlyphs">14</text>
<text x="317.41" y="311.20" font-size="7.0" fill="#3a3a3a" textLength="6.63" lengthAdjust="spacingAndGlyphs">14</text>
<text x="330.94" y="302.70" font-size="7.0" fill="#3a3a3a" textLength="6.73" lengthAdjust="spacingAndGlyphs">13</text>
<text x="330.94" y="311.20" font-size="7.0" fill="#3a3a3a" textLength="6.77" lengthAdjust="spacingAndGlyphs">12</text>
<text x="355.30" y="173.50" font-size="11.4" font-weight="bold" fill="#000" stroke="#000" stroke-width="0.4" textLength="6.38" lengthAdjust="spacingAndGlyphs">F</text>
<line x1="396.50" y1="181.80" x2="396.50" y2="260.70" stroke="#000" stroke-width="1.25"/>
<line x1="395.90" y1="260.10" x2="505.90" y2="260.10" stroke="#000" stroke-width="1.25"/>
<line x1="393.60" y1="184.50" x2="396.50" y2="184.50" stroke="#000" stroke-width="1.2"/>
<text x="378.30" y="186.80" font-size="7.2" fill="#262626" textLength="12.76" lengthAdjust="spacingAndGlyphs">1.00</text>
<line x1="393.60" y1="202.50" x2="396.50" y2="202.50" stroke="#000" stroke-width="1.2"/>
<text x="377.63" y="204.80" font-size="7.2" fill="#262626" textLength="13.46" lengthAdjust="spacingAndGlyphs">0.75</text>
<line x1="393.60" y1="220.50" x2="396.50" y2="220.50" stroke="#000" stroke-width="1.2"/>
<text x="377.63" y="222.80" font-size="7.2" fill="#262626" textLength="13.44" lengthAdjust="spacingAndGlyphs">0.50</text>
<line x1="393.60" y1="238.50" x2="396.50" y2="238.50" stroke="#000" stroke-width="1.2"/>
<text x="377.63" y="240.80" font-size="7.2" fill="#262626" textLength="13.46" lengthAdjust="spacingAndGlyphs">0.25</text>
<line x1="393.60" y1="256.50" x2="396.50" y2="256.50" stroke="#000" stroke-width="1.2"/>
<text x="377.63" y="258.80" font-size="7.2" fill="#262626" textLength="13.44" lengthAdjust="spacingAndGlyphs">0.00</text>
<line x1="399.20" y1="260.10" x2="399.20" y2="263.50" stroke="#000" stroke-width="1.15"/>
<text x="397.16" y="271.80" font-size="7.2" fill="#262626" textLength="4.07" lengthAdjust="spacingAndGlyphs">0</text>
<line x1="412.16" y1="260.10" x2="412.16" y2="263.50" stroke="#000" stroke-width="1.15"/>
<text x="408.02" y="271.80" font-size="7.2" fill="#262626" textLength="8.24" lengthAdjust="spacingAndGlyphs">90</text>
<line x1="425.12" y1="260.10" x2="425.12" y2="263.50" stroke="#000" stroke-width="1.15"/>
<text x="419.52" y="271.80" font-size="7.2" fill="#262626" textLength="10.96" lengthAdjust="spacingAndGlyphs">180</text>
<line x1="438.09" y1="260.10" x2="438.09" y2="263.50" stroke="#000" stroke-width="1.15"/>
<text x="432.66" y="271.80" font-size="7.2" fill="#262626" textLength="10.78" lengthAdjust="spacingAndGlyphs">270</text>
<line x1="451.05" y1="260.10" x2="451.05" y2="263.50" stroke="#000" stroke-width="1.15"/>
<text x="445.71" y="271.80" font-size="7.2" fill="#262626" textLength="10.69" lengthAdjust="spacingAndGlyphs">360</text>
<line x1="464.01" y1="260.10" x2="464.01" y2="263.50" stroke="#000" stroke-width="1.15"/>
<text x="458.77" y="271.80" font-size="7.2" fill="#262626" textLength="10.59" lengthAdjust="spacingAndGlyphs">450</text>
<line x1="476.97" y1="260.10" x2="476.97" y2="263.50" stroke="#000" stroke-width="1.15"/>
<text x="471.62" y="271.80" font-size="7.2" fill="#262626" textLength="10.71" lengthAdjust="spacingAndGlyphs">540</text>
<line x1="489.94" y1="260.10" x2="489.94" y2="263.50" stroke="#000" stroke-width="1.15"/>
<text x="484.51" y="271.80" font-size="7.2" fill="#262626" textLength="10.78" lengthAdjust="spacingAndGlyphs">630</text>
<line x1="502.90" y1="260.10" x2="502.90" y2="263.50" stroke="#000" stroke-width="1.15"/>
<text x="497.47" y="271.80" font-size="7.2" fill="#262626" textLength="10.78" lengthAdjust="spacingAndGlyphs">720</text>
<text x="445.77" y="283.50" font-size="9.8" fill="#262626" stroke="#262626" stroke-width="0.08" textLength="14.66" lengthAdjust="spacingAndGlyphs">Days</text>
<text x="0" y="0" font-size="8.7" fill="#262626" stroke="#262626" stroke-width="0.12" textLength="32.23" lengthAdjust="spacingAndGlyphs" transform="translate(372.80,236.67) rotate(-90)">Proportion</text>
<line x1="405.10" y1="190.40" x2="420.00" y2="190.40" stroke="#6aaa3c" stroke-width="1.2"/>
<line x1="450.40" y1="190.40" x2="465.50" y2="190.40" stroke="#b8143f" stroke-width="1.2"/>
<text x="422.80" y="192.40" font-size="6.2" fill="#3a3a3a" textLength="18.79" lengthAdjust="spacingAndGlyphs">Control</text>
<text x="468.07" y="192.40" font-size="6.2" fill="#3a3a3a" textLength="30.00" lengthAdjust="spacingAndGlyphs">Intervention</text>
<path d="M399.20,257.20 L402.80,257.20 L402.80,257.00 L405.00,257.00 L405.00,255.50 L408.00,255.50 L408.00,253.80 L410.90,253.80 L410.90,252.20 L426.30,252.20 L426.30,250.30 L475.10,250.30 L475.10,248.40 L500.90,248.40 L500.90,248.40" fill="none" stroke="#6aaa3c" stroke-width="1.25"/>
<path d="M399.20,257.20 L401.40,257.20 L401.40,256.30 L403.50,256.30 L403.50,253.20 L405.50,253.20 L405.50,251.40 L411.50,251.40 L411.50,250.00 L501.80,250.00 L501.80,250.00" fill="none" stroke="#b8143f" stroke-width="1.25"/>
<text x="474.63" y="245.30" font-size="6.2" fill="#262626" textLength="17.86" lengthAdjust="spacingAndGlyphs">p=0.92</text>
<text x="354.55" y="294.00" font-size="6.3" fill="#303030" textLength="36.05" lengthAdjust="spacingAndGlyphs">Number at risk</text>
<text x="372.01" y="302.60" font-size="6.3" fill="#303030" textLength="18.47" lengthAdjust="spacingAndGlyphs">Control</text>
<text x="361.69" y="311.40" font-size="6.3" fill="#303030" textLength="28.77" lengthAdjust="spacingAndGlyphs">Intervention</text>
<text x="396.07" y="302.70" font-size="7.0" fill="#3a3a3a" textLength="6.37" lengthAdjust="spacingAndGlyphs">45</text>
<text x="395.97" y="311.20" font-size="7.0" fill="#3a3a3a" textLength="6.46" lengthAdjust="spacingAndGlyphs">50</text>
<text x="409.03" y="302.70" font-size="7.0" fill="#3a3a3a" textLength="6.42" lengthAdjust="spacingAndGlyphs">42</text>
<text x="409.03" y="311.20" font-size="7.0" fill="#3a3a3a" textLength="6.30" lengthAdjust="spacingAndGlyphs">44</text>
<text x="421.99" y="302.70" font-size="7.0" fill="#3a3a3a" textLength="6.41" lengthAdjust="spacingAndGlyphs">41</text>
<text x="421.99" y="311.20" font-size="7.0" fill="#3a3a3a" textLength="6.38" lengthAdjust="spacingAndGlyphs">43</text>
<text x="434.96" y="302.70" font-size="7.0" fill="#3a3a3a" textLength="6.35" lengthAdjust="spacingAndGlyphs">40</text>
<text x="434.96" y="311.20" font-size="7.0" fill="#3a3a3a" textLength="6.35" lengthAdjust="spacingAndGlyphs">40</text>
<text x="447.83" y="302.70" font-size="7.0" fill="#3a3a3a" textLength="6.50" lengthAdjust="spacingAndGlyphs">39</text>
<text x="447.92" y="311.20" font-size="7.0" fill="#3a3a3a" textLength="6.35" lengthAdjust="spacingAndGlyphs">40</text>
<text x="460.79" y="302.70" font-size="7.0" fill="#3a3a3a" textLength="6.48" lengthAdjust="spacingAndGlyphs">33</text>
<text x="460.79" y="311.20" font-size="7.0" fill="#3a3a3a" textLength="6.52" lengthAdjust="spacingAndGlyphs">37</text>
<text x="473.68" y="302.70" font-size="7.0" fill="#3a3a3a" textLength="6.54" lengthAdjust="spacingAndGlyphs">25</text>
<text x="473.75" y="311.20" font-size="7.0" fill="#3a3a3a" textLength="6.48" lengthAdjust="spacingAndGlyphs">33</text>
<text x="486.64" y="302.70" font-size="7.0" fill="#3a3a3a" textLength="6.60" lengthAdjust="spacingAndGlyphs">22</text>
<text x="486.64" y="311.20" font-size="7.0" fill="#3a3a3a" textLength="6.55" lengthAdjust="spacingAndGlyphs">28</text>
<text x="499.61" y="302.70" font-size="7.0" fill="#3a3a3a" textLength="6.52" lengthAdjust="spacingAndGlyphs">20</text>
<text x="499.60" y="311.20" font-size="7.0" fill="#3a3a3a" textLength="6.56" lengthAdjust="spacingAndGlyphs">23</text>
<g shape-rendering="crispEdges">
<rect x="0" y="0" width="520" height="1" fill="#000"/>
<rect x="0" y="1" width="520" height="1" fill="#000" fill-opacity="0.45"/>
<rect x="0" y="0" width="1" height="319" fill="#000"/>
<rect x="1" y="1" width="1" height="318" fill="#000" fill-opacity="0.45"/>
<rect x="519" y="0" width="1" height="319" fill="#000"/>
<rect x="518" y="2" width="1" height="316" fill="#000" fill-opacity="0.15"/>
<rect x="0" y="318" width="520" height="1" fill="#000"/>
<rect x="2" y="317" width="516" height="1" fill="#000" fill-opacity="0.15"/>
</g>
</svg>
</body></html>
